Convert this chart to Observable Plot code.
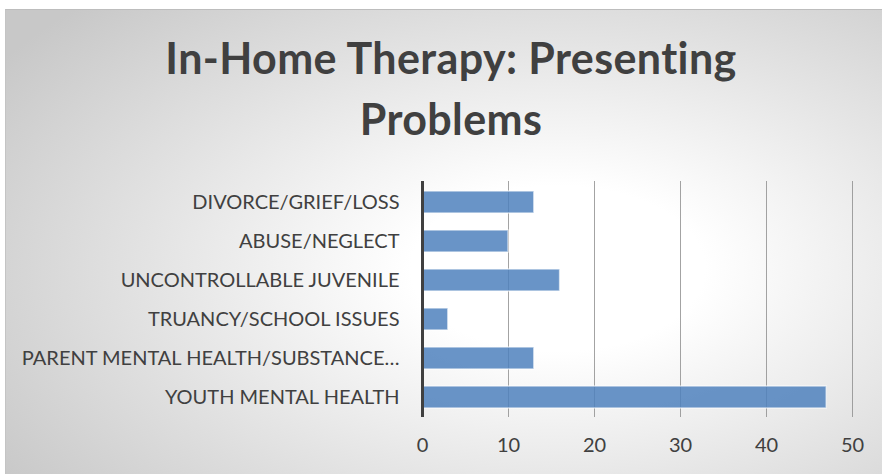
<!DOCTYPE html>
<html>
<head>
<meta charset="utf-8">
<script src="https://cdn.jsdelivr.net/npm/d3@7"></script>
<script src="https://cdn.jsdelivr.net/npm/@observablehq/plot@0.6"></script>
<style>
  html, body { margin: 0; padding: 0; background: #fff; width: 882px; height: 474px; overflow: hidden; }
  #frame {
    position: absolute; left: 5px; top: 9px; width: 890px; height: 470px;
    border-top: 1px solid #bdbdbd; border-left: 1px solid #c4c4c4;
    background: radial-gradient(ellipse 75% 80% at 62% 55%, #ffffff 0%, #ffffff 22%, #e4e4e4 60%, #c8c8c8 100%);
  }
  #title {
    position: absolute; left: 95px; top: 17px; width: 700px;
    text-align: center; font-family: Lato, sans-serif; font-weight: bold;
    font-size: 43px; letter-spacing: 0.4px; line-height: 61px; color: #404040;
  }
  #chart { position: absolute; left: 0; top: 150px; }
</style>
</head>
<body>
<div id="frame">
  <div id="title">In-Home Therapy: Presenting<br>Problems</div>
  <div id="chart"></div>
</div>
<script>
const categories = [
  "DIVORCE/GRIEF/LOSS",
  "ABUSE/NEGLECT",
  "UNCONTROLLABLE JUVENILE",
  "TRUANCY/SCHOOL ISSUES",
  "PARENT MENTAL HEALTH/SUBSTANCE…",
  "YOUTH MENTAL HEALTH"
];
const counts = [13, 10, 16, 3, 13, 47];
const xTicks = [0, 10, 20, 30, 40, 50];

const data = categories.map((c, i) => ({category: c, count: counts[i]}));

const chart = Plot.plot({
  width: 877,
  height: 324,
  marginLeft: 416,
  marginRight: 31,
  marginTop: 21,
  marginBottom: 67,
  style: {fontFamily: "Lato, sans-serif", fontSize: "20px", color: "#404040", background: "transparent", overflow: "visible"},
  x: {domain: [0, 50], ticks: xTicks},
  y: {domain: categories, paddingInner: 0.44, paddingOuter: 0.23},
  marks: [
    Plot.gridX(xTicks.slice(1), {stroke: "#8c8c8c", strokeOpacity: 0.8, strokeWidth: 1}),
    Plot.barX(data, {x: "count", y: "category", fill: "#4f81bd", fillOpacity: 0.85, stroke: "#ffffff", strokeOpacity: 0.6, strokeWidth: 1.5}),
    Plot.ruleX([0], {stroke: "#404040", strokeWidth: 3}),
    Plot.axisX(xTicks, {tickSize: 0, tickPadding: 20, label: null, fill: "#404040"}),
    Plot.axisY({tickSize: 0, tickPadding: 23, label: null, fill: "#404040"})
  ]
});
document.getElementById("chart").appendChild(chart);
</script>
</body>
</html>
